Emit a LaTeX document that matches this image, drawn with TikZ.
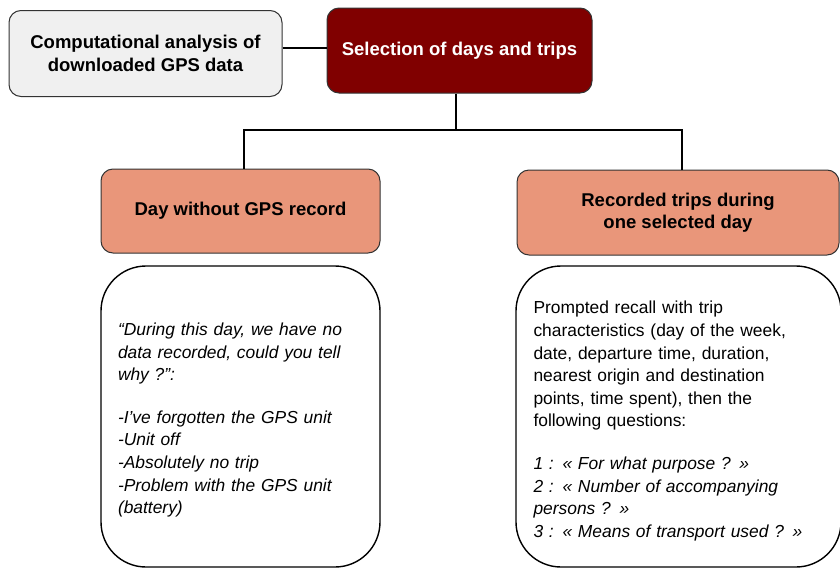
\documentclass[tikz,border=0pt]{standalone}
\usepackage{fontspec}
\setmainfont{Liberation Sans}
\definecolor{greyfill}{HTML}{F0F0F0}
\definecolor{maroonfill}{HTML}{800000}
\definecolor{salmonfill}{HTML}{E9967A}
\definecolor{edgegrey}{HTML}{333333}
\begin{document}
\begin{tikzpicture}[x=1pt,y=-1pt,
  headbox/.style={draw=edgegrey, line width=1pt, rounded corners=12pt,
    inner sep=0pt, align=center,
    font=\fontsize{18.5}{22.5}\selectfont\bfseries},
  answerbox/.style={draw=black, line width=1.4pt, rounded corners=45pt, fill=white,
    inner sep=0pt, minimum height=301pt},
  answertext/.style={inner sep=0pt, align=left,
    font=\fontsize{17.4}{22.6}\selectfont},
  link/.style={line width=2.6pt, black}]
  \useasboundingbox (0,0) rectangle (840,568);
  \fill[white] (0,0) rectangle (840,568);

  % upper row
  \node[headbox, fill=greyfill, minimum width=273pt, minimum height=86pt]
    (calc) at (145.5,53.5) {Computational analysis of\\downloaded GPS data};
  \node[headbox, fill=maroonfill, text=white, minimum width=265pt, minimum height=85pt]
    (select) at (459.5,50.5) {\raisebox{-3pt}{Selection of days and trips}};

  % the two cases
  \node[headbox, fill=salmonfill, minimum width=279pt, minimum height=84pt]
    (noday) at (240.5,211) {\raisebox{-3pt}{Day without GPS record}};
  \node[headbox, fill=salmonfill, minimum width=322pt, minimum height=85pt]
    (trips) at (678,212.5) {Recorded trips during\\one selected day};

  % interview questions
  \node[answerbox, minimum width=279pt] (nodaybox) at (240.5,416.5) {};
  \node[answertext, text width=245pt] (nodaytext)
    at ([yshift=-3.5pt]nodaybox.center) {\itshape
    “During this day, we have no\\
    data recorded, could you tell\\
    why ?”:\\[20pt]
    -I’ve forgotten the GPS unit\\
    -Unit off\\
    -Absolutely no trip\\
    -Problem with the GPS unit\\
    (battery)};
  \node[answerbox, minimum width=325pt] (tripsbox) at (678.5,416.5) {};
  \node[answertext, text width=290pt] (tripstext)
    at ([yshift=-4.5pt]tripsbox.center) {%
    Prompted recall with trip\\
    characteristics (day of the week,\\
    date, departure time, duration,\\
    nearest origin and destination\\
    points, time spent), then the\\
    following questions:\\[20pt]
    \itshape 1 : « For what purpose ? »\\
    \itshape 2 : « Number of accompanying\\
    \itshape persons ? »\\
    \itshape 3 : « Means of transport used ? »};

  % connectors
  \coordinate (mid) at (304,48);
  \coordinate (hub) at (456,130);
  \coordinate (lft) at (244,130);
  \coordinate (rgt) at (682,130);
  \draw[link] (calc.east |- mid) -- (select.west |- mid);
  \draw[link] (hub |- select.south) -- (hub);
  \draw[link] (lft |- noday.north) -- (lft) -- (rgt) -- (rgt |- trips.north);
\end{tikzpicture}
\end{document}
